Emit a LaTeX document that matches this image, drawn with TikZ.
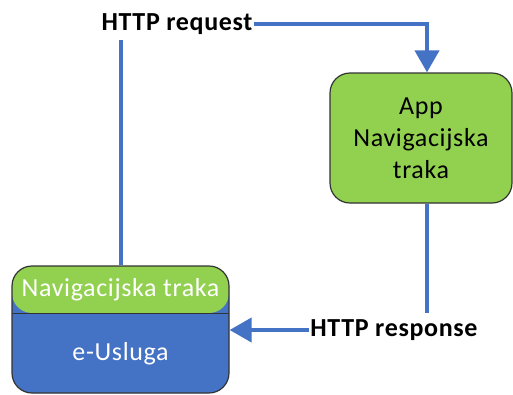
\documentclass[tikz,border=0pt]{standalone}
\usepackage{fontspec}
\setmainfont{Carlito}
\usetikzlibrary{calc}
\usetikzlibrary{arrows.meta}
\definecolor{navgreen}{HTML}{92D050}
\definecolor{navblue}{HTML}{4472C4}
\definecolor{edgegray}{HTML}{333333}

\begin{document}
\begin{tikzpicture}[x=1pt,y=-1pt,
    link/.style={draw=navblue,line width=4pt},
    tip/.style={-{Triangle[width=24pt,length=22pt]}},
    msg/.style={font=\fontsize{26}{30}\selectfont\bfseries\addfontfeature{LetterSpace=2.5},inner sep=1pt},
    txt/.style={font=\fontsize{26}{32}\selectfont\addfontfeature{LetterSpace=2.5}},
    box/.style={draw=edgegray,line width=1.2pt,rounded corners=20pt,align=center,txt}]
    \useasboundingbox (0,0) rectangle (513,394);
    \coordinate (ReqPos) at (177,24);
    \coordinate (ResPos) at (394,330);
    \coordinate (AppPos) at (421,138);
    \coordinate (UslPos) at (120.5,329.5);
    \node[msg] (request) at (ReqPos) {HTTP request};
    \node[msg] (response) at (ResPos) {HTTP response};
    \node[box,fill=navgreen,minimum width=182pt,minimum height=130pt] (app) at (AppPos) {App\\Navigacijska\\traka};
    \node[box,fill=navblue,minimum width=217pt,minimum height=127pt,
      path picture={
        \fill[navgreen] (path picture bounding box.north west) rectangle ([yshift=-47pt]path picture bounding box.north east);
        \draw[edgegray,line width=1pt] ([yshift=-47pt]path picture bounding box.north west) -- ([yshift=-47pt]path picture bounding box.north east);
      }] (eusluga) at (UslPos) {};
    \node[txt,text=white] (navtraka) at ($(eusluga.north)+(0,24)$) {Navigacijska traka};
    \node[txt,text=white] (usluga) at ($(eusluga.north)+(0,88)$) {e-Usluga};
    \coordinate (AppIn) at ($(app.north)+(6,0)$);
    \coordinate (AppOut) at ($(app.south)+(6,0)$);
    \draw[link] (eusluga.north) -- (eusluga.north |- 0,40);
    \draw[link,tip] (request.east) -- (request.east -| AppIn) -- (AppIn);
    \draw[link] (AppOut) -- (AppOut |- 0,313);
    \draw[link,tip] (response.west) -- (eusluga.east |- response.west);
\end{tikzpicture}
\end{document}
